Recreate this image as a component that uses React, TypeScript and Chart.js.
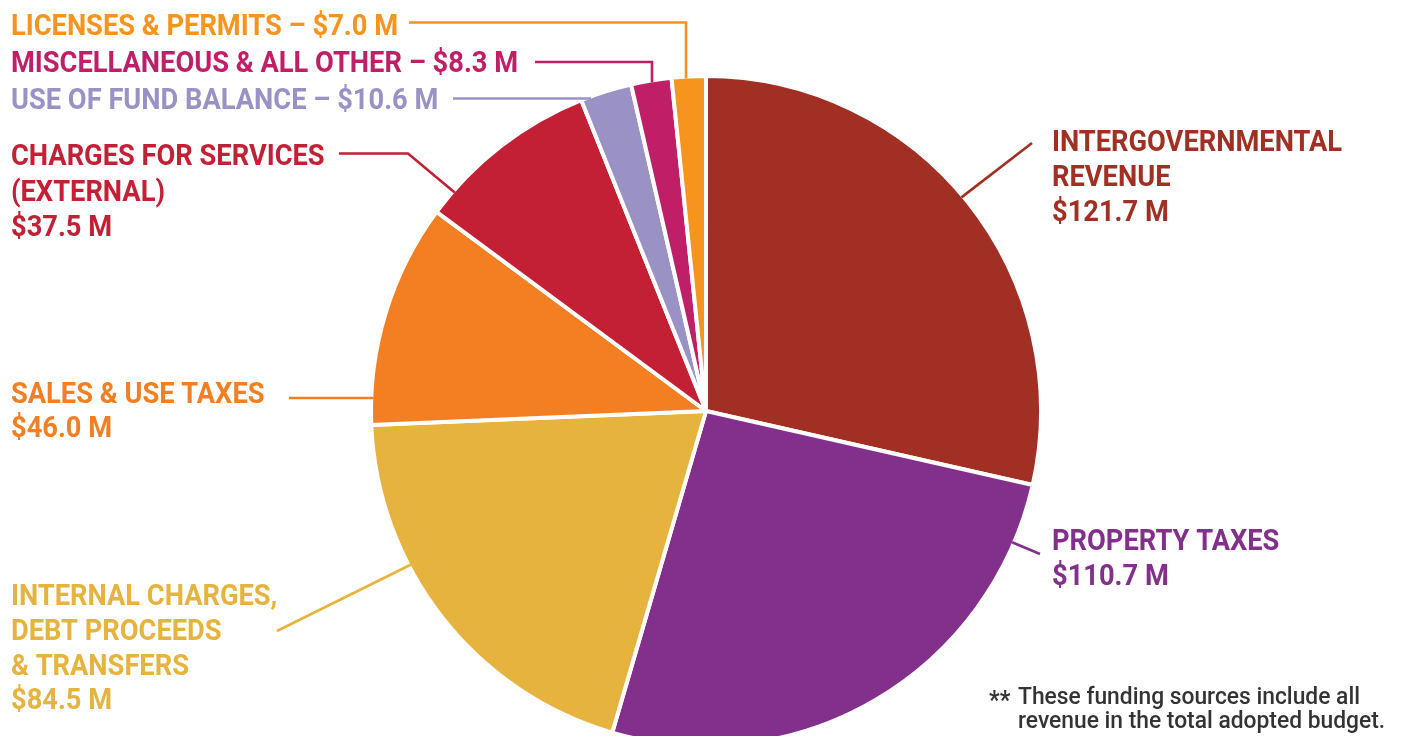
import React, { useEffect, useRef } from "react";
import { Chart, registerables } from "chart.js";

Chart.register(...registerables);

const categories = [
  "Intergovernmental Revenue",
  "Property Taxes",
  "Internal Charges, Debt Proceeds & Transfers",
  "Sales & Use Taxes",
  "Charges for Services (External)",
  "Use of Fund Balance",
  "Miscellaneous & All Other",
  "Licenses & Permits",
];
const values = [121.7, 110.7, 84.5, 46.0, 37.5, 10.6, 8.3, 7.0];
const nameLines: string[][] = [
  ["INTERGOVERNMENTAL", "REVENUE"],
  ["PROPERTY TAXES"],
  ["INTERNAL CHARGES,", "DEBT PROCEEDS", "& TRANSFERS"],
  ["SALES & USE TAXES"],
  ["CHARGES FOR SERVICES", "(EXTERNAL)"],
  ["USE OF FUND BALANCE"],
  ["MISCELLANEOUS & ALL OTHER"],
  ["LICENSES & PERMITS"],
];
const inlineValue = [false, false, false, false, false, true, true, true];
const sliceColors = ["#A12F23", "#83308C", "#E7B33F", "#F37F22", "#C31F35", "#9A91C5", "#C01F68", "#F7941E"];
const footnoteLines = ["These funding sources include all", "revenue in the total adopted budget."];

type Layout = {
  x: number;
  y: number;
  lh: number;
  path: number[][];
  end: { type: "angle"; deg: number } | { type: "h" } | { type: "v" };
};

const layouts: Layout[] = [
  { x: 1052, y: 151, lh: 35.2, path: [[1032, 143]], end: { type: "angle", deg: 50.1 } },
  { x: 1052, y: 550, lh: 34.7, path: [[1040, 554]], end: { type: "angle", deg: 113.2 } },
  { x: 11, y: 605, lh: 34.8, path: [[277, 631]], end: { type: "angle", deg: 242.5 } },
  { x: 11, y: 403, lh: 34, path: [[289, 398]], end: { type: "h" } },
  { x: 11, y: 165, lh: 35.5, path: [[339, 153.5], [408, 153.5]], end: { type: "angle", deg: 311 } },
  { x: 11, y: 109, lh: 35, path: [[453, 98.5]], end: { type: "h" } },
  { x: 11, y: 72, lh: 35, path: [[535, 62], [652, 62]], end: { type: "v" } },
  { x: 11, y: 34.5, lh: 35, path: [[409, 22.5], [686, 22.5]], end: { type: "v" } },
];

const FONT = 'bold 29px Roboto';
const SX = 0.94;

const labelPlugin = {
  id: "outerLabels",
  afterDraw(chart: any) {
    const ctx = chart.ctx as CanvasRenderingContext2D;
    const meta = chart.getDatasetMeta(0);
    const arc0 = meta.data[0] as any;
    const cx = arc0.x;
    const cy = arc0.y;
    const r = arc0.outerRadius - 2;
    ctx.save();
    layouts.forEach((L, i) => {
      const color = sliceColors[i];
      const pts = L.path.map((p) => [p[0], p[1]]);
      const last = pts[pts.length - 1];
      let edge: number[];
      if (L.end.type === "angle") {
        const a = ((L.end.deg - 90) * Math.PI) / 180;
        edge = [cx + r * Math.cos(a), cy + r * Math.sin(a)];
      } else if (L.end.type === "h") {
        const dy = last[1] - cy;
        edge = [cx - Math.sqrt(r * r - dy * dy), last[1]];
      } else {
        const dx = last[0] - cx;
        edge = [last[0], cy - Math.sqrt(r * r - dx * dx)];
      }
      pts.push(edge);
      ctx.beginPath();
      ctx.strokeStyle = color;
      ctx.lineWidth = 2.6;
      ctx.lineJoin = "miter";
      ctx.moveTo(pts[0][0], pts[0][1]);
      for (let k = 1; k < pts.length; k++) ctx.lineTo(pts[k][0], pts[k][1]);
      ctx.stroke();
      const valText = "$" + values[i].toFixed(1) + " M";
      const lines = inlineValue[i]
        ? [nameLines[i][0] + " \u2013 " + valText]
        : [...nameLines[i], valText];
      ctx.fillStyle = color;
      ctx.font = FONT;
      ctx.textBaseline = "alphabetic";
      ctx.textAlign = "left";
      lines.forEach((t, k) => {
        ctx.save();
        ctx.translate(L.x, L.y + k * L.lh);
        ctx.scale(SX, 1);
        ctx.fillText(t, 0, 0);
        ctx.restore();
      });
    });
    ctx.fillStyle = "#333333";
    ctx.font = 'bold 26px Roboto';
    const fy = [704, 728];
    ctx.save();
    ctx.translate(989, fy[0] + 5);
    ctx.scale(0.9, 1);
    ctx.fillText("**", 0, 0);
    ctx.restore();
    ctx.font = '500 24px Roboto';
    footnoteLines.forEach((t, k) => {
      ctx.save();
      ctx.translate(1018, fy[k]);
      ctx.scale(0.95, 1);
      ctx.fillText(t, 0, 0);
      ctx.restore();
    });
    ctx.restore();
  },
};

export default function App() {
  const ref = useRef<HTMLCanvasElement | null>(null);
  useEffect(() => {
    if (!ref.current) return;
    const chart = new Chart(ref.current, {
      type: "pie",
      data: {
        labels: categories,
        datasets: [
          {
            data: values,
            backgroundColor: sliceColors,
            borderColor: "#ffffff",
            borderWidth: 4,
            radius: 335,
          } as any,
        ],
      },
      options: {
        animation: false,
        responsive: false,
        layout: { padding: { left: 9, top: 86, right: 0, bottom: 0 } },
        plugins: {
          legend: { display: false },
          tooltip: { enabled: false },
        },
      },
      plugins: [labelPlugin],
    });
    return () => chart.destroy();
  }, []);
  return (
    <div style={{ position: "absolute", left: 0, top: 0, width: 1403, height: 736, background: "#fff" }}>
      <canvas ref={ref} width={1403} height={736} style={{ width: 1403, height: 736, display: "block" }} />
    </div>
  );
}
